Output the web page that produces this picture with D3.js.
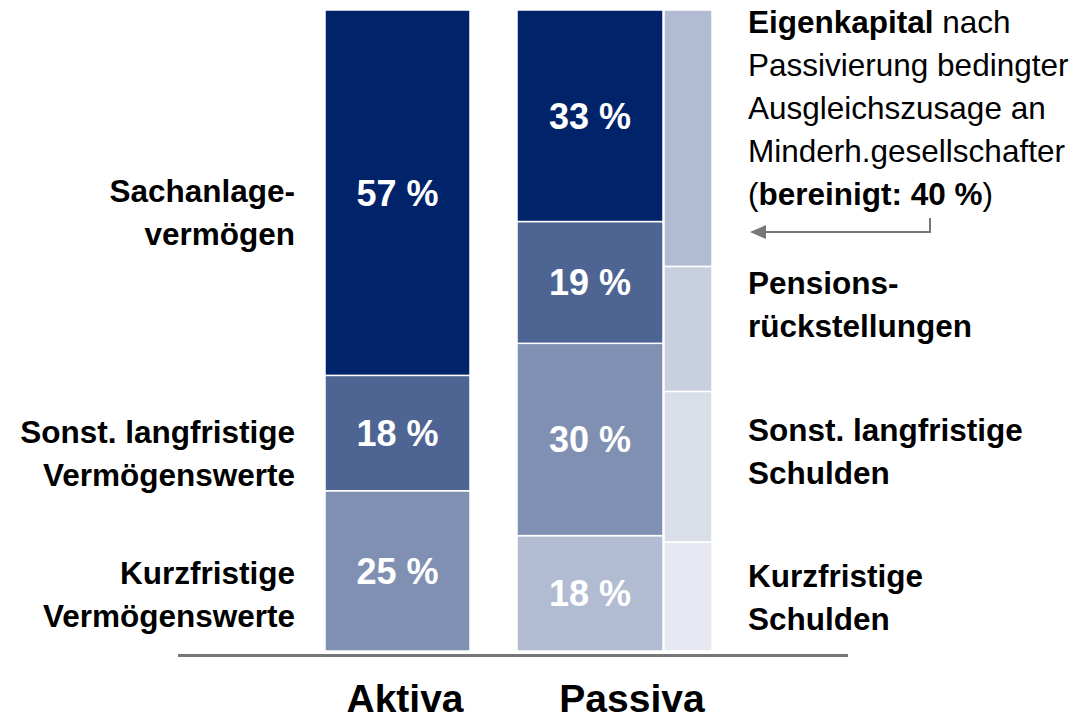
<!DOCTYPE html>
<html>
<head>
<meta charset="utf-8">
<script src="https://cdn.jsdelivr.net/npm/d3@7"></script>
<style>
	body { margin: 0; background: #fff; }
	svg text { font-family: "Liberation Sans", Arial, sans-serif; }
</style>
</head>
<body>
<div id="chart"></div>
<script>
	//
	// Datasets (share of balance sheet total, bottom to top)
	//
	let aktivaValues = [25, 18, 57];
	let aktivaLabels = ['25 %', '18 %', '57 %'];
	let passivaValues = [18, 30, 19, 33];
	let passivaLabels = ['18 %', '30 %', '19 %', '33 %'];
	// adjusted Passiva (no label in the chart)
	let bereinigtValues = [17, 23.5, 19.5, 40];
	let columnNames = ['Aktiva', 'Passiva'];

	let leftTexts = [
		['Kurzfristige', 'Vermögenswerte'],
		['Sonst. langfristige', 'Vermögenswerte'],
		['Sachanlage-', 'vermögen']
	];
	let rightTexts = [
		['Kurzfristige', 'Schulden'],
		['Sonst. langfristige', 'Schulden'],
		['Pensions-', 'rückstellungen']
	];

	let aktivaColors = ['#8090b2', '#4e6594', '#012369'];
	let passivaColors = ['#b1bcd2', '#8090b2', '#4e6594', '#012369'];
	let bereinigtColors = ['#e6e9f1', '#d9dee8', '#c8cfde', '#b1bcd2'];

	var svg_width = 1089,
	svg_height = 720;

	var svg = d3.select("#chart").append("svg")
		.attr("width", svg_width)
		.attr("height", svg_height);

	var y = d3.scaleLinear()
		.domain([0, 100])
		.range([651, 10]);

	function stackOf(values) {
		var acc = 0;
		return values.map(function(v) {
			var d = { y0: acc, y1: acc + v, value: v };
			acc += v;
			return d;
		});
	}

	function drawBar(values, colors, x0, x1, labels) {
		var g = svg.append("g");
		var segs = stackOf(values);
		g.selectAll("rect")
			.data(segs)
			.enter()
			.append("rect")
			.attr("x", x0)
			.attr("width", x1 - x0)
			.attr("y", function(d) { return y(d.y1); })
			.attr("height", function(d) { return y(d.y0) - y(d.y1); })
			.style("fill", function(d, i) { return colors[i]; })
			.style("stroke", "#fff")
			.style("stroke-width", 1.5);
		if (labels) {
			g.selectAll("text")
				.data(segs)
				.enter()
				.append("text")
				.attr("x", (x0 + x1) / 2)
				.attr("y", function(d) { return (y(d.y0) + y(d.y1)) / 2 + 13; })
				.attr("text-anchor", "middle")
				.style("font-size", "36px")
				.style("font-weight", "bold")
				.style("fill", "#fff")
				.text(function(d, i) { return labels[i]; });
		}
		return segs;
	}

	drawBar(aktivaValues, aktivaColors, 325, 470, aktivaLabels);
	drawBar(passivaValues, passivaColors, 517, 663, passivaLabels);
	drawBar(bereinigtValues, bereinigtColors, 664, 712, null);

	// base line
	svg.append("line")
		.attr("x1", 178).attr("x2", 848)
		.attr("y1", 655.5).attr("y2", 655.5)
		.style("stroke", "#777")
		.style("stroke-width", 3);

	// column titles
	svg.selectAll(".colname")
		.data(columnNames)
		.enter()
		.append("text")
		.attr("class", "colname")
		.attr("x", function(d, i) { return i == 0 ? 405 : 632; })
		.attr("y", 712)
		.attr("text-anchor", "middle")
		.style("font-size", "39px")
		.style("font-weight", "bold")
		.text(function(d) { return d; });

	function multiLine(sel, lines, x, baseline, anchor) {
		var t = sel.append("text")
			.attr("text-anchor", anchor)
			.style("font-size", "31.5px")
			.style("font-weight", "bold")
			.style("fill", "#000");
		lines.forEach(function(l, i) {
			t.append("tspan")
				.attr("x", x)
				.attr("y", baseline + i * 42.5)
				.text(l);
		});
	}

	// left category labels (first baseline)
	let leftBaselines = [584, 443, 202];
	leftTexts.forEach(function(lines, i) {
		multiLine(svg, lines, 295, leftBaselines[i], "end");
	});

	// right category labels
	let rightBaselines = [587, 441, 294];
	rightTexts.forEach(function(lines, i) {
		multiLine(svg, lines, 748, rightBaselines[i], "start");
	});

	// Eigenkapital note
	var note = svg.append("text")
		.style("font-size", "31.5px")
		.style("fill", "#000");
	var l1 = note.append("tspan").attr("x", 748).attr("y", 33);
	l1.append("tspan").style("font-weight", "bold").text("Eigenkapital");
	l1.append("tspan").text(" nach");
	note.append("tspan").attr("x", 748).attr("y", 76).text("Passivierung bedingter");
	note.append("tspan").attr("x", 748).attr("y", 119).text("Ausgleichszusage an");
	note.append("tspan").attr("x", 748).attr("y", 162).text("Minderh.gesellschafter");
	var l5 = note.append("tspan").attr("x", 748).attr("y", 205);
	l5.append("tspan").text("(");
	l5.append("tspan").style("font-weight", "bold").text("bereinigt: 40 %");
	l5.append("tspan").text(")");

	// arrow pointing to the adjusted bar
	svg.append("path")
		.attr("d", "M930,218 L930,232 L764,232")
		.style("fill", "none")
		.style("stroke", "#777")
		.style("stroke-width", 2);
	svg.append("path")
		.attr("d", "M750,232 L766,225 L766,239 Z")
		.style("fill", "#777");
</script>
</body>
</html>
